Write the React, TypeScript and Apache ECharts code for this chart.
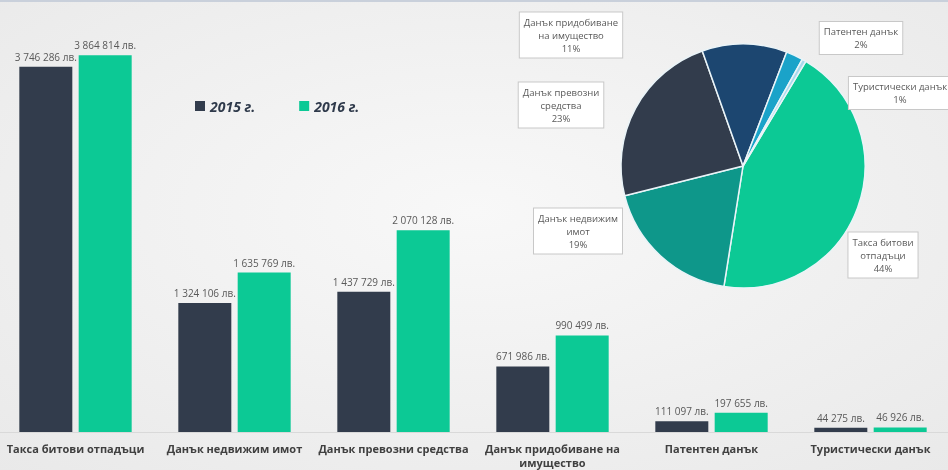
import React, { useEffect, useRef } from "react";
import * as echarts from "echarts";

const categories = [
  "Такса битови отпадъци",
  "Данък недвижим имот",
  "Данък превозни средства",
  "Данък придобиване на имущество",
  "Патентен данък",
  "Туристически данък",
];
const values2015 = [3746286, 1324106, 1437729, 671986, 111097, 44275];
const values2016 = [3864814, 1635769, 2070128, 990499, 197655, 46926];
const seriesNames = ["2015 г.", "2016 г."];
const pieLabelText = [
  "Такса битови\nотпадъци",
  "Данък недвижим\nимот",
  "Данък превозни\nсредства",
  "Данък придобиване\nна имущество",
  "Патентен данък",
  "Туристически данък",
];
const pieColors = ["#0cc995", "#0e978a", "#323c4c", "#1c4670", "#1aa3c9", "#a9d9ec"];
const pieLabelPos: [number, number][] = [
  [883, 255],
  [578, 231],
  [561, 105],
  [571, 35],
  [861, 38],
  [900, 93],
];

const fmt = (v: number) =>
  String(v).replace(/\B(?=(\d{3})+(?!\d))/g, " ") + " лв.";

const wrapWords = (s: string, maxChars: number) => {
  const words = s.split(" ");
  const lines: string[] = [];
  let cur = "";
  for (const w of words) {
    const next = cur ? cur + " " + w : w;
    if (next.length > maxChars && cur) {
      lines.push(cur);
      cur = w;
    } else {
      cur = next;
    }
  }
  if (cur) lines.push(cur);
  return lines.join("\n");
};

export default function App() {
  const ref = useRef<HTMLDivElement>(null);
  useEffect(() => {
    if (!ref.current) return;
    const chart = echarts.init(ref.current, null, { renderer: "svg" });
    const labelStyle = {
      show: true,
      position: "top" as const,
      distance: 5,
      fontSize: 10,
      color: "#595959",
      fontFamily: "Open Sans",
      formatter: (p: any) => fmt(p.value),
    };
    chart.setOption({
      animation: false,
      backgroundColor: {
        type: "radial",
        x: 0.5,
        y: 0.45,
        r: 0.75,
        colorStops: [
          { offset: 0, color: "#f8f8f8" },
          { offset: 1, color: "#e9e9e9" },
        ],
      },
      graphic: [
        {
          type: "rect",
          shape: { x: 0, y: 0, width: 948, height: 2 },
          style: { fill: "#c9d0db" },
        },
      ],
      legend: {
        data: seriesNames,
        left: 190,
        top: 94,
        itemWidth: 10,
        itemHeight: 10,
        itemGap: 44,
        icon: "rect",
        textStyle: {
          fontSize: 14,
          fontWeight: "bold",
          fontStyle: "italic",
          color: "#2f3a4b",
          fontFamily: "Open Sans",
        },
      },
      grid: {
        left: -4,
        width: 954,
        top: 42,
        bottom: 38,
        containLabel: false,
        outerBoundsMode: "none",
      },
      xAxis: {
        type: "category",
        data: categories,
        axisTick: { show: false },
        axisLine: { show: true, lineStyle: { color: "#d9d9d9" } },
        axisLabel: {
          interval: 0,
          margin: 9,
          fontSize: 11,
          fontWeight: "bold",
          color: "#404040",
          fontFamily: "Open Sans",
          lineHeight: 14,
          hideOverlap: false,
          formatter: (v: string) => wrapWords(v, 23),
        },
      },
      yAxis: { type: "value", min: 0, max: 4000000, show: false, splitLine: { show: false } },
      series: [
        {
          name: seriesNames[0],
          type: "bar",
          data: values2015,
          barWidth: 53,
          barGap: "12%",
          itemStyle: { color: "#323c4c" },
          label: labelStyle,
        },
        {
          name: seriesNames[1],
          type: "bar",
          data: values2016,
          barWidth: 53,
          itemStyle: { color: "#0cc995" },
          label: labelStyle,
        },
        {
          type: "pie",
          center: [743, 166],
          radius: 122,
          startAngle: 59,
          clockwise: true,
          percentPrecision: 0,
          data: categories.map((c, i) => ({
            name: c,
            value: values2016[i],
            itemStyle: { color: pieColors[i] },
          })),
          itemStyle: { borderColor: "#eaf4f8", borderWidth: 1.5 },
          labelLine: { show: false },
          label: {
            show: true,
            position: "inside",
            rotate: 0,
            overflow: "none",
            formatter: (p: any) => pieLabelText[p.dataIndex] + "\n" + p.percent + "%",
            backgroundColor: "#ffffff",
            borderColor: "#c8c8c8",
            borderWidth: 1,
            padding: [3, 4],
            fontSize: 9.5,
            lineHeight: 13,
            color: "#595959",
            textBorderWidth: 0,
            fontFamily: "Open Sans",
            align: "center",
          },
          labelLayout: (p: any) => ({
            x: pieLabelPos[p.dataIndex][0],
            y: pieLabelPos[p.dataIndex][1],
            align: "center",
            verticalAlign: "middle",
            hideOverlap: false,
          }),
          emphasis: { disabled: true },
        },
      ],
    });
    return () => chart.dispose();
  }, []);
  return (
    <div
      ref={ref}
      style={{ position: "fixed", left: 0, top: 0, width: 948, height: 470 }}
    />
  );
}
